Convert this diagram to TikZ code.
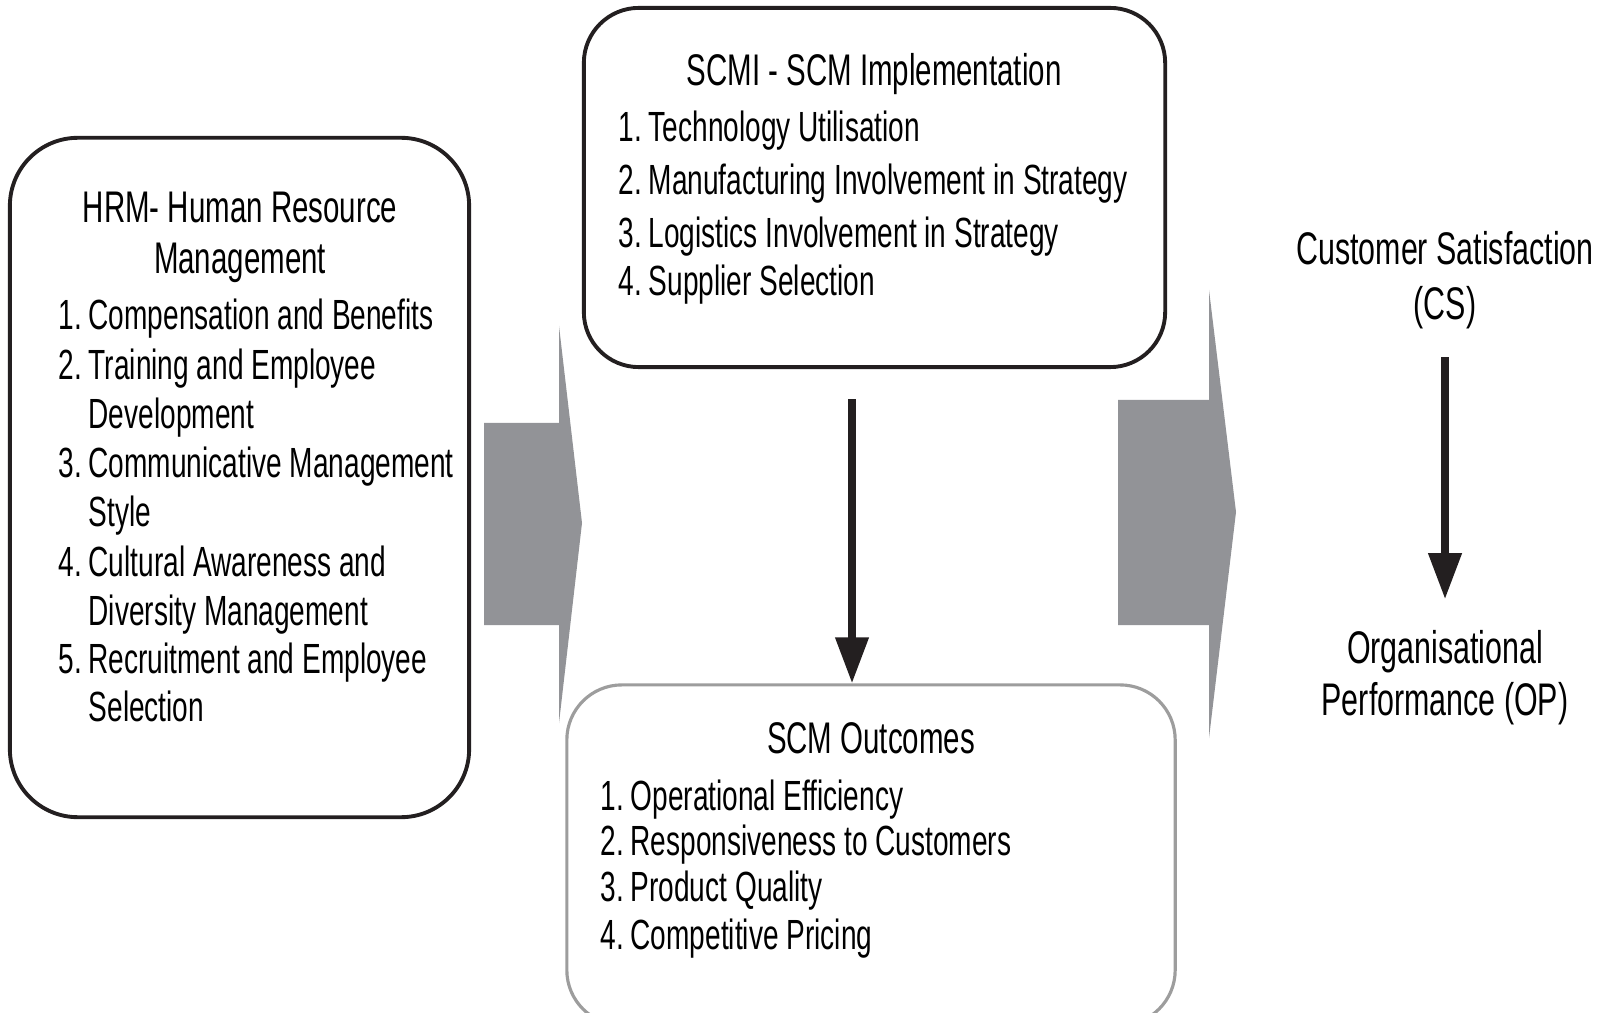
\documentclass[tikz,border=0pt]{standalone}
\usepackage{fontspec}
\setmainfont{Liberation Sans}[FakeStretch=0.665]
\usetikzlibrary{arrows.meta}

\begin{document}
\begin{tikzpicture}[x=0.01cm,y=-0.01cm,
  box/.style={draw=boxline,line width=1.1pt,rounded corners=0.55cm},
  txt/.style={inner sep=0pt,font=\fontsize{12}{14}\selectfont},
  titletxt/.style={inner sep=0pt,font=\fontsize{12.6}{15}\selectfont},
  bigtxt/.style={inner sep=0pt,font=\fontsize{13}{15}\selectfont},
  downarrow/.style={draw=boxline,line width=2.1pt,-{Triangle[width=0.32cm,length=0.46cm]}}]
\definecolor{arrowgrey}{HTML}{929397}
\definecolor{boxline}{HTML}{231F20}
\definecolor{softline}{HTML}{9D9D9D}
\useasboundingbox (0,0) rectangle (1607,1013);
% big grey arrows
\fill [arrowgrey] (484,423) -- (559,423) -- (559,326) -- (582,523) -- (559,723) -- (559,625) -- (484,625) -- cycle;
\fill [arrowgrey] (1118,400) -- (1209,400) -- (1209,290) -- (1236,512) -- (1209,738) -- (1209,625) -- (1118,625) -- cycle;
% boxes
\node [box,rounded corners=0.68cm,minimum width=4.59cm,minimum height=6.79cm] (hrm) at (239.5,477.5) {};
\node [box,minimum width=5.81cm,minimum height=3.59cm] (scmi) at (874.5,187.5) {};
\node [box,draw=softline,line width=0.9pt,minimum width=6.08cm,minimum height=3.40cm] (outcomes) at (871,855) {};
% titles
\node [titletxt,anchor=base] (hrmtitle) at (240,223) {HRM- Human Resource};
\node [titletxt,anchor=base] (hrmtitle2) at (240,274) {Management};
\node [titletxt,anchor=base] (scmititle) at (874,86) {SCMI - SCM Implementation};
\node [titletxt,anchor=base] (outtitle) at (871,753) {SCM Outcomes};
% lists
\foreach \nr/\entry/\ypos [count=\i] in {1./Compensation and Benefits/330,2./Training and Employee/380,/Development/429,3./Communicative Management/478,/Style/526,4./Cultural Awareness and/576,/Diversity Management/625,5./Recruitment and Employee/673,/Selection/721}
  { \node [txt,anchor=base west] (hrm-\i) at (58,\ypos) {\makebox[0.3cm][l]{\nr}\entry}; }
\foreach \nr/\entry/\ypos [count=\i] in {1./Technology Utilisation/142,2./Manufacturing Involvement in Strategy/195,3./Logistics Involvement in Strategy/248,4./Supplier Selection/296}
  { \node [txt,anchor=base west] (scmi-\i) at (618,\ypos) {\makebox[0.3cm][l]{\nr}\entry}; }
\foreach \nr/\entry/\ypos [count=\i] in {1./Operational Efficiency/810,2./Responsiveness to Customers/855,3./Product Quality/901,4./Competitive Pricing/949}
  { \node [txt,anchor=base west] (out-\i) at (600,\ypos) {\makebox[0.3cm][l]{\nr}\entry}; }
% right column
\node [bigtxt,anchor=base] (cs) at (1445,265) {Customer Satisfaction};
\node [bigtxt,anchor=base] (csabbr) at (1445,320) {(CS)};
\node [bigtxt,anchor=base] (op) at (1445,663) {Organisational};
\node [bigtxt,anchor=base] (opabbr) at (1445,715) {Performance (OP)};
% black arrows
\coordinate (midx) at (852,0);
\draw [downarrow,shorten <=0.3cm] (scmi.south -| midx) -- (outcomes.north -| midx);
\draw [downarrow,shorten <=0.27cm,shorten >=0.30cm] (csabbr.south) -- (op.north);
\end{tikzpicture}
\end{document}
